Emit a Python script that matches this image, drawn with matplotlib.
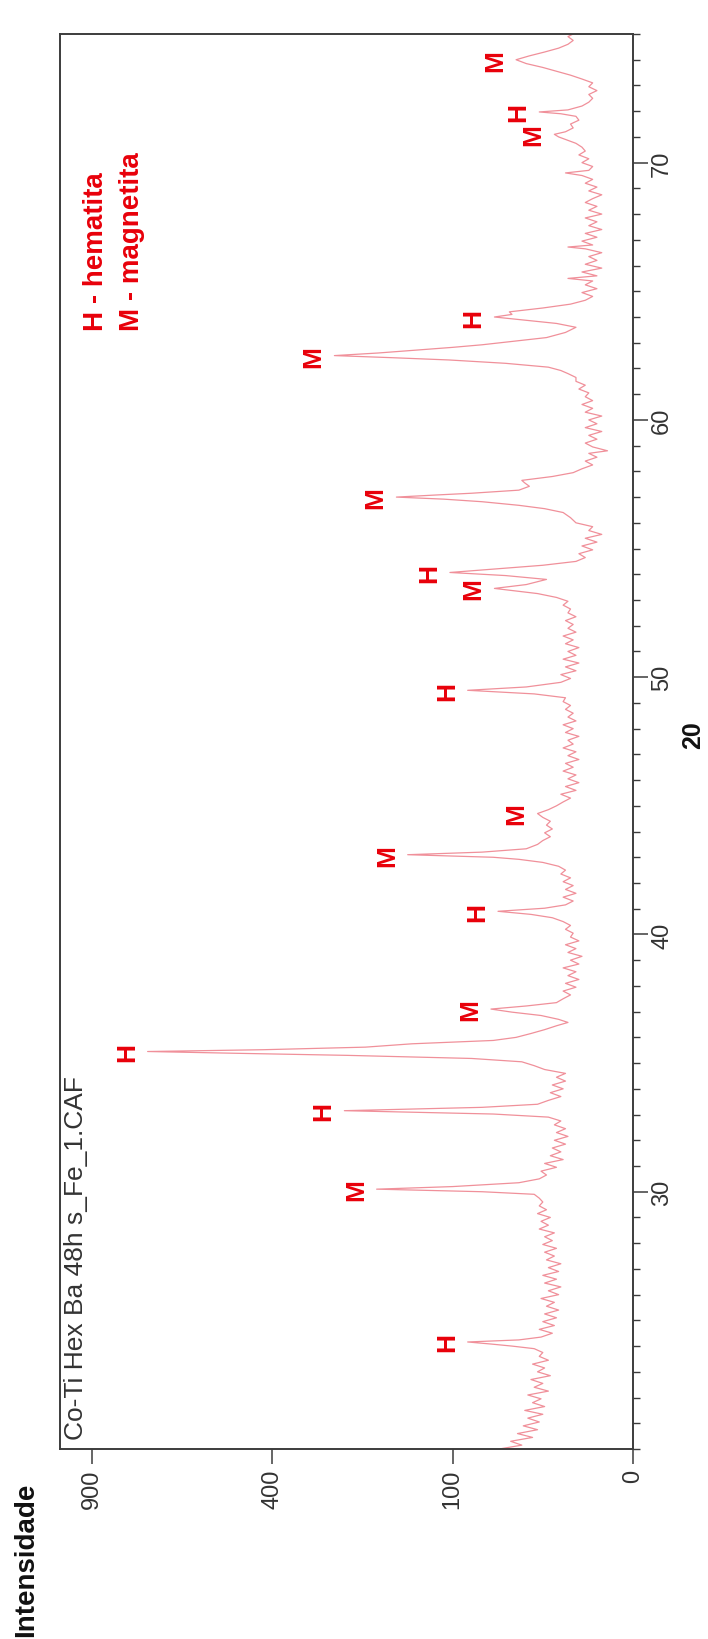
import numpy as np
import matplotlib
matplotlib.use("Agg")
import matplotlib.pyplot as plt
from matplotlib.ticker import FixedLocator, MultipleLocator, NullLocator

plt.rcParams['font.family'] = ['Liberation Sans', 'DejaVu Sans']

# ---------------- data ----------------
two_theta = [
    20.0, 20.15, 20.3, 20.45, 20.6, 20.75, 20.9, 21.05, 21.2, 21.35, 21.5, 21.65, 21.8, 21.95,
    22.1, 22.25, 22.4, 22.55, 22.7, 22.85, 23.0, 23.15, 23.3, 23.45, 23.6, 23.75, 23.9,
    24.0, 24.08, 24.16, 24.24, 24.35, 24.5, 24.65, 24.8, 24.95, 25.1, 25.25, 25.4, 25.55, 25.7,
    25.85, 26.0, 26.15, 26.3, 26.45, 26.6, 26.75, 26.9, 27.05, 27.2, 27.35, 27.5, 27.65, 27.8,
    27.95, 28.1, 28.25, 28.4, 28.55, 28.7, 28.85, 29.0, 29.15, 29.3, 29.45, 29.6, 29.75, 29.9,
    30.0, 30.1, 30.2, 30.35, 30.5, 30.65, 30.8, 30.95, 31.1, 31.25, 31.4, 31.55, 31.7, 31.85,
    32.0, 32.15, 32.3, 32.45, 32.6, 32.75, 32.9, 33.02,
    33.15, 33.28, 33.4, 33.55, 33.7, 33.85, 34.0, 34.15, 34.3, 34.45, 34.6, 34.75, 34.9, 35.05,
    35.18, 35.3, 35.38, 35.45, 35.52, 35.62, 35.75, 35.88, 36.0, 36.15, 36.3, 36.45, 36.58, 36.7,
    36.85, 36.98, 37.1, 37.22, 37.35, 37.5,
    37.65, 37.8, 37.95, 38.1, 38.25, 38.4, 38.55, 38.7, 38.85, 39.0, 39.15, 39.3, 39.45, 39.6,
    39.75, 39.9, 40.05, 40.2, 40.35, 40.5, 40.65, 40.78, 40.9, 41.02, 41.15,
    41.3, 41.45, 41.6, 41.75, 41.9, 42.05, 42.2, 42.35, 42.5, 42.65, 42.8, 42.92, 43.0, 43.1,
    43.2, 43.33, 43.5, 43.65, 43.8, 43.95, 44.1, 44.25, 44.4, 44.55, 44.7, 44.85, 45.0,
    45.15, 45.3, 45.45, 45.6, 45.75, 45.9, 46.05, 46.2, 46.35, 46.5, 46.65, 46.8, 46.95, 47.1,
    47.25, 47.4, 47.55, 47.7, 47.85, 48.0, 48.15, 48.3, 48.45, 48.6, 48.75, 48.9, 49.05, 49.2,
    49.35, 49.49, 49.62, 49.8,
    49.95, 50.1, 50.25, 50.4, 50.55, 50.7, 50.85, 51.0, 51.15, 51.3, 51.45, 51.6, 51.75, 51.9,
    52.05, 52.2, 52.35, 52.5, 52.65, 52.8, 52.95, 53.1, 53.25, 53.45, 53.6, 53.8, 53.95, 54.07,
    54.2, 54.35, 54.5,
    54.65, 54.8, 54.95, 55.1, 55.25, 55.4, 55.55, 55.7, 55.85, 56.0, 56.2, 56.4, 56.55, 56.68,
    56.82, 56.92, 57.0, 57.08, 57.15, 57.27, 57.42, 57.55, 57.65, 57.8, 57.95,
    58.1, 58.25, 58.4, 58.55, 58.7, 58.8, 58.95, 59.1, 59.25, 59.4, 59.55, 59.7, 59.85, 60.0,
    60.15, 60.3, 60.45, 60.6, 60.75, 60.9, 61.05, 61.2, 61.35, 61.5,
    61.65, 61.8, 61.92, 62.05, 62.2, 62.33, 62.42, 62.5, 62.6, 62.7, 62.82, 62.92, 63.05, 63.2,
    63.4, 63.6, 63.75, 63.9, 64.0, 64.1, 64.2, 64.35, 64.5, 64.65,
    64.8, 64.95, 65.1, 65.25, 65.4, 65.5, 65.6, 65.75, 65.9, 66.05, 66.2, 66.35, 66.5, 66.65,
    66.72, 66.8, 66.95, 67.1, 67.25, 67.4, 67.55, 67.7, 67.85, 68.0, 68.15, 68.3, 68.45, 68.6,
    68.75, 68.9, 69.05, 69.2, 69.35, 69.5, 69.6, 69.7, 69.85, 70.0,
    70.15, 70.3, 70.45, 70.6, 70.75, 70.9, 71.0, 71.1, 71.2, 71.35, 71.5, 71.65, 71.8, 71.9,
    71.97, 72.05, 72.2, 72.35, 72.5, 72.65, 72.8, 72.95, 73.1, 73.25, 73.4, 73.55, 73.7, 73.85,
    74.0, 74.15, 74.3, 74.45, 74.6, 74.75, 74.9, 75.0,
]
intensity = [
    55, 38, 46, 31, 41, 28, 37, 27, 34, 25, 36, 24, 31, 26,
    34, 22, 30, 25, 32, 21, 28, 24, 31, 22, 27, 25, 30,
    45, 62, 84, 40, 26, 20, 27, 19, 25, 18, 24, 17, 23, 19,
    26, 17, 22, 16, 24, 18, 25, 17, 22, 16, 23, 19, 24, 18,
    25, 20, 24, 19, 27, 22, 26, 21, 28, 23, 27, 25, 27, 30,
    70, 202, 100, 40, 27, 23, 26, 18, 24, 15, 21, 16, 20, 14,
    19, 13, 18, 14, 19, 16, 22, 60,
    256, 70, 28, 22, 16, 21, 15, 20, 14, 18, 14, 24, 30, 38,
    80, 250, 480, 724, 420, 220, 150, 60, 42, 32, 24, 18, 13, 17,
    26, 45, 62, 35, 18, 15,
    12, 15, 10, 14, 9, 13, 10, 15, 9, 12, 8, 13, 10, 14,
    9, 12, 11, 14, 12, 15, 20, 32, 56, 24, 14,
    11, 15, 10, 14, 11, 15, 12, 16, 14, 17, 25, 40, 60, 156,
    70, 35, 28, 25, 21, 24, 20, 23, 21, 25, 28, 22, 18,
    15, 12, 16, 10, 14, 9, 13, 10, 15, 11, 14, 9, 13, 10,
    15, 11, 13, 9, 14, 11, 15, 10, 13, 11, 14, 12, 15, 14,
    30, 84, 35, 16,
    12, 16, 10, 14, 9, 15, 10, 13, 9, 14, 11, 15, 10, 13,
    11, 14, 10, 13, 12, 15, 13, 18, 28, 59, 35, 23, 50, 103,
    60, 25, 10,
    7, 9, 5, 8, 4, 7, 3, 6, 5, 10, 12, 15, 24, 40,
    70, 110, 172, 120, 80, 40, 33, 36, 38, 20, 11,
    8, 5, 7, 4, 6, 2, 5, 7, 4, 6, 3, 7, 4, 6,
    3, 7, 5, 8, 5, 7, 6, 9, 7, 10,
    10, 13, 16, 22, 50, 104, 180, 274, 200, 150, 100, 70, 45, 23,
    14, 10, 18, 40, 59, 45, 47, 25, 12, 7,
    5, 8, 4, 7, 5, 13, 4, 8, 3, 7, 4, 6, 3, 7,
    13, 5, 8, 4, 7, 3, 6, 4, 7, 3, 6, 4, 7, 5,
    3, 6, 4, 7, 5, 8, 14, 6, 5, 8,
    6, 9, 7, 8, 10, 14, 17, 19, 14, 11, 12, 9, 10, 16,
    27, 13, 8, 6, 5, 6, 4, 6, 5, 8, 12, 18, 25, 35,
    42, 33, 24, 17, 13, 11, 13, 11,
]

peak_pos = [24.16, 30.1, 33.15, 35.45, 37.1, 40.9, 43.1, 44.7, 49.49,
            53.45, 54.07, 57.0, 62.5, 64.0, 71.1, 71.97, 74.0]
peak_phase = ['H', 'M', 'H', 'H', 'M', 'H', 'M', 'M', 'H',
              'M', 'H', 'M', 'M', 'H', 'M', 'H', 'M']

int_ticks = [0, 100, 400, 900]
theta_ticks = [30, 40, 50, 60, 70]
legend_lines = ['H - hematita', 'M - magnetita']
sample_name = 'Co-Ti Hex Ba 48h s_Fe_1.CAF'

# ---------------- figure ----------------
W, H = 708, 1640
fig = plt.figure(figsize=(W / 100, H / 100), dpi=100)
fig.patch.set_facecolor('white')
ax = fig.add_axes([60 / W, 190 / H, 573 / W, 1415 / H])

tt = np.array(two_theta, dtype=float)
ii = np.array(intensity, dtype=float)

ax.set_xscale('function', functions=(lambda v: np.sqrt(np.clip(v, 0, None)),
                                     lambda v: np.square(v)))
ax.plot(ii, tt, color='#f0909a', lw=0.9, zorder=2)
ax.set_xlim(1009, 0)
ax.set_ylim(20, 75)

frame_c = '#3c3c3c'
for s in ax.spines.values():
    s.set_color(frame_c)
    s.set_linewidth(1.4)

ax.xaxis.set_major_locator(FixedLocator(int_ticks))
ax.xaxis.set_minor_locator(NullLocator())
ax.set_xticks(int_ticks, [str(v) for v in int_ticks], rotation=90,
              fontsize=17, color='#333333')
ax.tick_params(axis='x', direction='out', length=11, width=1.1, color=frame_c, pad=3)

ax.yaxis.tick_right()
ax.set_yticks(theta_ticks, [str(v) for v in theta_ticks], rotation=90,
              va='center', fontsize=17, color='#333333')
ax.yaxis.set_minor_locator(MultipleLocator(1))
ax.tick_params(axis='y', which='major', direction='out', length=11, width=1.1,
               color=frame_c, pad=2)
ax.tick_params(axis='y', which='minor', direction='out', length=5, width=1.0,
               color=frame_c)

# peak labels
red = '#e8000a'
for pos, ph in zip(peak_pos, peak_phase):
    k = int(np.argmin(np.abs(tt - pos)))
    ax.annotate(ph, xy=(ii[k], tt[k]), xytext=(-15, 0), textcoords='offset points',
                rotation=90, rotation_mode='anchor', ha='center', va='center',
                color=red, fontsize=19, fontweight='bold', zorder=3)

# legend text (rotated like the whole scan)
fig.text(103 / W, 1 - 331 / H, legend_lines[0], rotation=90, rotation_mode='anchor',
         ha='left', va='baseline', color=red, fontsize=20, fontweight='bold')
fig.text(139 / W, 1 - 331 / H, legend_lines[1], rotation=90, rotation_mode='anchor',
         ha='left', va='baseline', color=red, fontsize=20, fontweight='bold')

# sample name
fig.text(83 / W, 1 - 1440 / H, sample_name, rotation=90, rotation_mode='anchor',
         ha='left', va='baseline', color='#333333', fontsize=19)

# axis titles
fig.text(33 / W, 1 - 1637 / H, 'Intensidade', rotation=90, rotation_mode='anchor',
         ha='left', va='baseline', color='#111111', fontsize=20, fontweight='bold')
fig.text(700 / W, 1 - 735 / H, '20', rotation=90, rotation_mode='anchor',
         ha='center', va='baseline', color='#111111', fontsize=18, fontweight='bold')

fig.savefig('out.png', dpi=100, facecolor='white')
